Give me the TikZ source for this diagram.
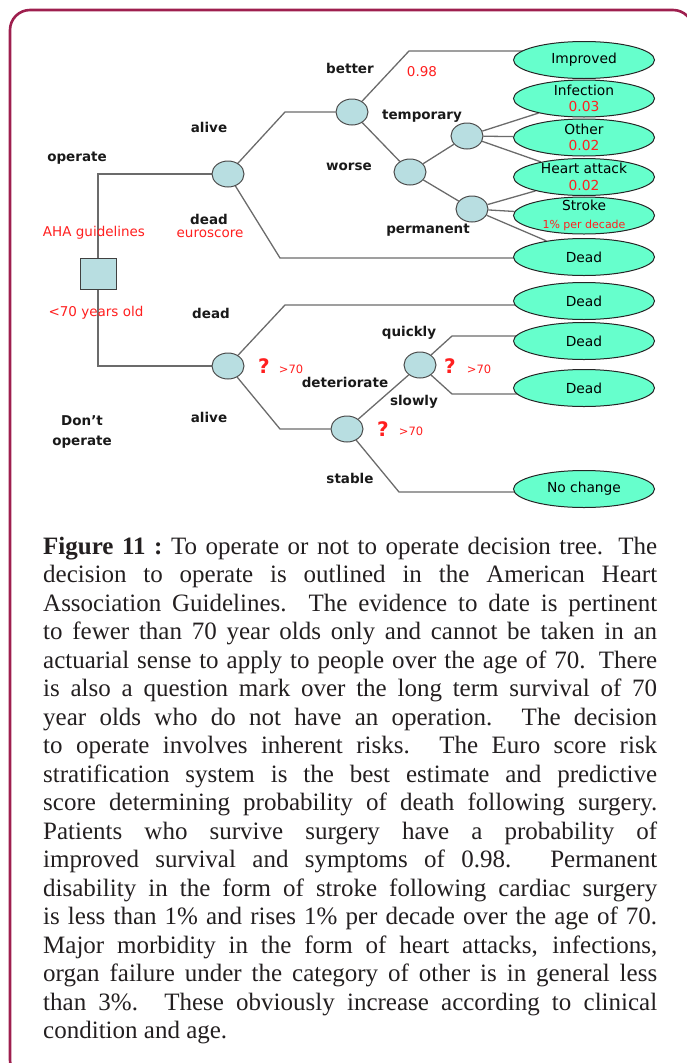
\documentclass[tikz,border=0pt]{standalone}
\usepackage{fontspec}
\setmainfont{Liberation Serif}
\newfontfamily\dvs{DejaVu Sans}
\usetikzlibrary{shapes.geometric,backgrounds}
\definecolor{framec}{HTML}{9E1F4E}
\definecolor{chfill}{HTML}{B8DEE1}
\definecolor{ocfill}{HTML}{66FFCC}
\definecolor{lnc}{HTML}{6B6B6B}
\definecolor{redt}{HTML}{FF1F1F}
\definecolor{capt}{HTML}{231F20}
\begin{document}
\begin{tikzpicture}[x=1pt,y=-1pt,
 conn/.style={draw=lnc,line width=1.3pt},
 chance/.style={ellipse,draw=black!70,line width=1pt,fill=chfill,minimum width=32pt,minimum height=26pt,inner sep=0pt},
 outc/.style={ellipse,draw=black!85,line width=1pt,fill=ocfill,minimum width=141pt,minimum height=37pt,inner sep=0pt},
 otext/.style={font=\dvs\fontsize{13.8}{16.5}\selectfont,align=center,inner sep=0pt,text=black},
 lbl/.style={font=\dvs\bfseries\fontsize{13.5}{20}\selectfont,inner sep=0pt,text=black!90,align=center},
 rlbl/.style={font=\dvs\fontsize{13.5}{16}\selectfont,inner sep=0pt,text=redt},
 qm/.style={font=\dvs\bfseries\fontsize{20}{24}\selectfont,inner sep=0pt,text=redt},
 gt/.style={font=\dvs\fontsize{11.5}{13}\selectfont,inner sep=0pt,text=redt},
 decision/.style={rectangle,draw=black!75,line width=1pt,fill=chfill,minimum width=36pt,minimum height=31pt,inner sep=0pt}
]
\useasboundingbox (0,0) rectangle (687,1063);
\begin{scope}
\clip (0,0) rectangle (687,1063);
\draw[draw=framec,line width=2.6pt,rounded corners=20pt] (10,10) rectangle (693,1080);
\end{scope}

% decision and chance nodes
\node[decision] (sq) at (98,273.5) {};
\node[chance] (c1) at (228,174) {};
\node[chance] (bw) at (352,112) {};
\node[chance] (wn) at (410,172) {};
\node[chance] (tn) at (467,136) {};
\node[chance] (pn) at (472,209) {};
\node[chance] (c2) at (228,366) {};
\node[chance] (ds) at (347,429) {};
\node[chance] (qs) at (420,365) {};

% outcomes
\node[outc] (imp) at (584,60) {};
\node[outc] (inf) at (584,98.5) {};
\node[outc] (oth) at (584,137.5) {};
\node[outc] (ha) at (584,177) {};
\node[outc] (str) at (584,215.5) {};
\node[outc] (d1) at (584,257) {};
\node[outc] (d2) at (584,301) {};
\node[outc] (d3) at (584,341) {};
\node[outc] (d4) at (584,388) {};
\node[outc] (nc) at (584,489) {};

\node[otext] (t-imp) at (imp) {Improved};
\node[otext] (t-inf) at (inf) {Infection\\\textcolor{redt}{0.03}};
\node[otext] (t-oth) at (oth) {Other\\\textcolor{redt}{0.02}};
\node[otext] (t-ha) at (ha) {Heart attack\\\textcolor{redt}{0.02}};
\node[otext] (t-str) at (str) {Stroke\\[1pt]{\fontsize{11}{13}\selectfont\textcolor{redt}{1\% per decade}}};
\node[otext] (t-d1) at (d1) {Dead};
\node[otext] (t-d2) at (d2) {Dead};
\node[otext] (t-d3) at (d3) {Dead};
\node[otext] (t-d4) at (d4) {Dead};
\node[otext] (t-nc) at (nc) {No change};

% bend coordinates
\coordinate (a1) at (285,112);
\coordinate (a2) at (280,258);
\coordinate (a3) at (409,51);
\coordinate (b1) at (285,305);
\coordinate (b2) at (280,429);
\coordinate (b3) at (452,336);
\coordinate (b4) at (452,394);
\coordinate (b5) at (399,492);

\begin{pgfonlayer}{background}
\draw[conn] (sq) |- (c1);
\draw[conn] (sq) |- (c2);
\draw[conn] (c1) -- (a1) -- (bw);
\draw[conn] (c1) -- (a2) -- (a2 -| d1);
\draw[conn] (bw) -- (a3) -- (a3 -| imp);
\draw[conn] (bw) -- (wn);
\draw[conn] (wn) -- (tn);
\draw[conn] (wn) -- (pn);
\draw[conn] (tn) -- (inf);
\draw[conn] (tn) -- (oth);
\draw[conn] (tn) -- (ha);
\draw[conn] (pn) -- (ha);
\draw[conn] (pn) -- (str);
\draw[conn] (pn) -- (d1);
\draw[conn] (c2) -- (b1) -- (b1 -| d2);
\draw[conn] (c2) -- (b2) -- (ds);
\draw[conn] (ds) -- (qs);
\draw[conn] (qs) -- (b3) -- (b3 -| d3);
\draw[conn] (qs) -- (b4) -- (b4 -| d4);
\draw[conn] (ds) -- (b5) -- (b5 -| nc);
\end{pgfonlayer}

% labels
\node[lbl] (l-op) at (77,158) {operate};
\node[lbl] (l-alive1) at (209,127) {alive};
\node[lbl] (l-dead1) at (209,219) {dead};
\node[rlbl] (l-euro) at (210,234) {euroscore};
\node[rlbl] (l-aha) at (94,233) {AHA guidelines};
\node[lbl] (l-better) at (350,68) {better};
\node[rlbl] (l-098) at (422,72) {0.98};
\node[lbl] (l-temp) at (422,116) {temporary};
\node[lbl] (l-worse) at (349,167) {worse};
\node[lbl] (l-perm) at (428,230) {permanent};
\node[rlbl] (l-lt70) at (96,313) {<70 years old};
\node[lbl] (l-dead2) at (211,313) {dead};
\node[qm] (q1) at (264,366) {?};
\node[gt] (g1) at (291,369) {>70};
\node[lbl] (l-det) at (345,382) {deteriorate};
\node[lbl] (l-alive2) at (209,417) {alive};
\node[lbl] (l-dont) at (82,432) {Don’t\\operate};
\node[lbl] (l-quick) at (409,333) {quickly};
\node[qm] (q2) at (450,366) {?};
\node[gt] (g2) at (479,369) {>70};
\node[lbl] (l-slow) at (414,402) {slowly};
\node[qm] (q3) at (383,429) {?};
\node[gt] (g3) at (411,431) {>70};
\node[lbl] (l-stable) at (350,478) {stable};

% caption
\node[anchor=north west,inner sep=0pt,text width=614pt,align=justify,
  font=\fontsize{25}{28.5}\selectfont,text=capt] (cap) at (43,536.5)
{\hyphenpenalty=10000\tolerance=10000\relax
\textbf{Figure 11 :}\ To operate or not to operate decision tree. The\linebreak
decision to operate is outlined in the American Heart\linebreak
Association Guidelines. The evidence to date is pertinent\linebreak
to fewer than 70 year olds only and cannot be taken in an\linebreak
actuarial sense to apply to people over the age of 70. There\linebreak
is also a question mark over the long term survival of 70\linebreak
year olds who do not have an operation. The decision\linebreak
to operate involves inherent risks. The Euro score risk\linebreak
stratification system is the best estimate and predictive\linebreak
score determining probability of death following surgery.\linebreak
Patients who survive surgery have a probability of\linebreak
improved survival and symptoms of 0.98. Permanent\linebreak
disability in the form of stroke following cardiac surgery\linebreak
is less than 1\% and rises 1\% per decade over the age of 70.\linebreak
Major morbidity in the form of heart attacks, infections,\linebreak
organ failure under the category of other is in general less\linebreak
than 3\%. These obviously increase according to clinical\linebreak
condition and age.};
\end{tikzpicture}
\end{document}
